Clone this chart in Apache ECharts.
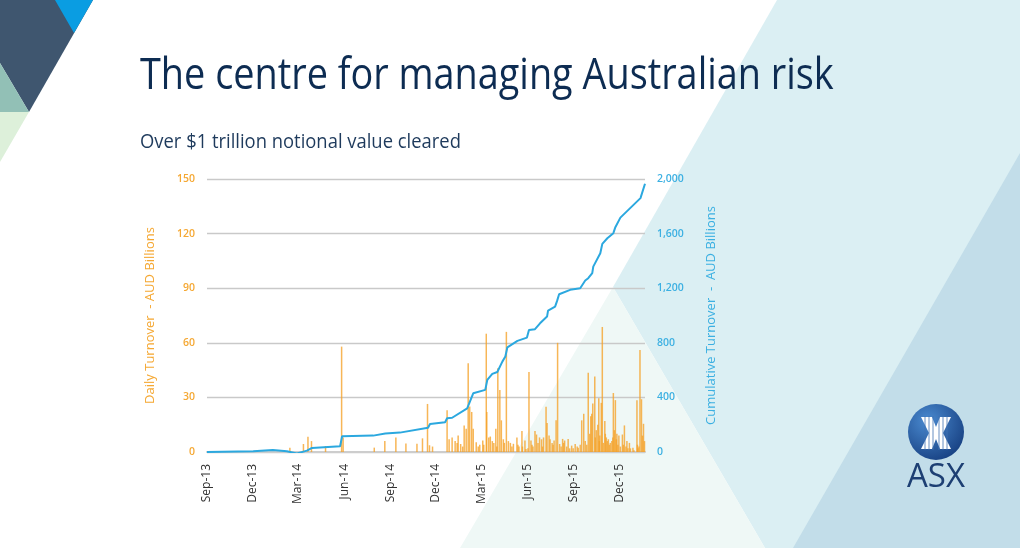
<!DOCTYPE html>
<html><head><meta charset="utf-8">
<script src="https://cdn.jsdelivr.net/npm/echarts@6/dist/echarts.min.js"></script>
<style>html,body{margin:0;padding:0;background:#fff}#c{width:1020px;height:548px}</style>
</head><body><div id="c"></div>
<script>
const titleText = 'The centre for managing Australian risk';
const subtitleText = 'Over $1 trillion notional value cleared';
const leftAxisName = 'Daily Turnover  - AUD Billions';
const rightAxisName = 'Cumulative Turnover  -  AUD Billions';
const logoText = 'ASX';

const tickDates = ['2013-09-01','2013-12-01','2014-03-01','2014-06-01','2014-09-01','2014-12-01','2015-03-01','2015-06-01','2015-09-01','2015-12-01'];
const tickLabels = ['Sep-13','Dec-13','Mar-14','Jun-14','Sep-14','Dec-14','Mar-15','Jun-15','Sep-15','Dec-15'];
const xMin = '2013-09-01';
const xMax = '2016-01-21';

const dailyDates = ['2014-02-13','2014-03-12','2014-03-21','2014-03-28','2014-04-25','2014-05-27','2014-05-30','2014-07-31','2014-08-21','2014-09-12',
'2014-10-02','2014-10-24','2014-11-04','2014-11-14','2014-11-18','2014-11-24','2014-12-23','2014-12-27','2015-01-02','2015-01-08',
'2015-01-12','2015-01-14','2015-01-19','2015-01-23','2015-01-26','2015-01-30','2015-02-03','2015-02-06','2015-02-10','2015-02-13',
'2015-02-19','2015-02-23','2015-02-26','2015-03-04','2015-03-06','2015-03-11','2015-03-12','2015-03-16','2015-03-19','2015-03-23',
'2015-03-26','2015-03-30','2015-04-01','2015-04-03','2015-04-07','2015-04-10','2015-04-14','2015-04-16','2015-04-20','2015-04-24',
'2015-04-28','2015-05-01','2015-05-04','2015-05-11','2015-05-13','2015-05-15','2015-05-21','2015-05-22','2015-05-27','2015-05-29',
'2015-06-02','2015-06-04','2015-06-08','2015-06-10','2015-06-12','2015-06-16','2015-06-19','2015-06-22','2015-06-25','2015-06-29',
'2015-07-01','2015-07-03','2015-07-08','2015-07-10','2015-07-14','2015-07-16','2015-07-20','2015-07-22','2015-07-24','2015-07-28',
'2015-07-31','2015-08-04','2015-08-07','2015-08-10','2015-08-12','2015-08-14','2015-08-18','2015-08-21','2015-08-24','2015-08-28',
'2015-08-31','2015-09-04','2015-09-08','2015-09-10','2015-09-14','2015-09-17','2015-09-21','2015-09-24','2015-09-27','2015-09-30',
'2015-10-03','2015-10-05','2015-10-07','2015-10-09','2015-10-13','2015-10-14','2015-10-16','2015-10-19','2015-10-21','2015-10-22',
'2015-10-23','2015-10-26','2015-10-28','2015-10-30','2015-11-02','2015-11-03','2015-11-05','2015-11-07','2015-11-09','2015-11-11',
'2015-11-13','2015-11-16','2015-11-18','2015-11-19','2015-11-21','2015-11-23','2015-11-25','2015-11-26','2015-11-28','2015-11-30',
'2015-12-03','2015-12-07','2015-12-09','2015-12-11','2015-12-14','2015-12-16','2015-12-18','2015-12-21','2015-12-23','2015-12-28',
'2015-12-30','2016-01-05','2016-01-06','2016-01-07','2016-01-09','2016-01-11','2016-01-14','2016-01-16','2016-01-18','2016-01-20'];
const dailyValues = [2.4,4.4,8.4,6,3.3,57.9,8,2.4,6,8,
4.7,4.5,7.5,26.4,3.7,3,23,7,8,6,
5,9,4.4,3,14.6,12.8,48.7,25,22,12.8,
5.4,3,4,6.3,4,65,22,8,8.5,6,
5,12.8,3,46,34,17.4,7,5,66,6,
5,3,4.5,8,4,3,11.5,3,6.3,1.7,
2,44,6.3,4,3,11.5,9.6,5,8,7,
3,8,24.8,16,9,7,5,4,6.3,17.4,
60,4.4,3,7.2,5,6.3,3,7.2,2,3.5,
2,4.4,3,2.4,4,17.4,21,6,4,43.6,
10,19.6,21,26.7,41.5,8,12,15,29.6,6,
9,27,68.7,5,17,10,8,6,7,4,
5,6,8,32.4,12,28.5,7,10,4,9,
3,9.6,4,14.6,3,6,2,5,2,2.4,
1,28.5,4,2,3,56,29,9,15.5,6];

const cumulativeDates = ['2013-09-01','2013-12-02','2014-01-10','2014-02-07','2014-02-27','2014-03-19','2014-03-29','2014-03-31','2014-05-24','2014-05-28',
'2014-07-29','2014-08-22','2014-09-20','2014-11-15','2014-11-19','2014-12-19','2014-12-23','2015-01-02','2015-02-01','2015-02-13',
'2015-03-09','2015-03-13','2015-03-23','2015-04-02','2015-04-12','2015-04-18','2015-04-22','2015-05-12','2015-05-31','2015-06-04',
'2015-06-16','2015-06-26','2015-07-10','2015-07-12','2015-07-26','2015-07-30','2015-08-03','2015-08-25','2015-09-14','2015-09-24',
'2015-09-30','2015-10-08','2015-10-10','2015-10-24','2015-10-28','2015-11-07','2015-11-19','2015-11-23','2015-12-03','2016-01-12','2016-01-21'];
const cumulativeValues = [0,5,15,5,-10,10,30,38,42,115,
120,135,142,178,205,218,247,251,320,430,
455,528,572,586,662,699,767,814,838,894,
900,943,992,1036,1065,1107,1156,1188,1200,1256,
1273,1310,1358,1456,1525,1566,1603,1647,1717,1860,1965];

function toTime(s){ const p = s.split('-').map(Number); return Date.UTC(p[0], p[1]-1, p[2]); }
const tickTimes = tickDates.map(toTime);

const FONT = 'Open Sans';
const chart = echarts.init(document.getElementById('c'), null, {renderer:'canvas'});

const bg = [
  {type:'polygon', shape:{points:[[777,0],[1020,0],[1020,548],[765,548],[613,287]]}, style:{fill:'#dbeff3'}},
  {type:'polygon', shape:{points:[[613,287],[765,548],[460,548]]}, style:{fill:'#eff8f6'}},
  {type:'polygon', shape:{points:[[793,548],[1020,153],[1020,548]]}, style:{fill:'#c2dde9'}},
  {type:'polygon', shape:{points:[[0,0],[93,0],[29,112],[0,63]]}, style:{fill:'#3f566f'}},
  {type:'polygon', shape:{points:[[55,0],[93,0],[74,33]]}, style:{fill:'#0a9de2'}},
  {type:'polygon', shape:{points:[[0,63],[29,112],[0,112]]}, style:{fill:'#92c0b6'}},
  {type:'polygon', shape:{points:[[0,112],[29,112],[0,162]]}, style:{fill:'#ddf0da'}}
].map(e => Object.assign(e, {z:-100, silent:true}));

const logo = [
  {type:'circle', shape:{cx:936, cy:432, r:28}, style:{fill:new echarts.graphic.RadialGradient(0.35,0.3,0.85,[{offset:0,color:'#4a8ad0'},{offset:1,color:'#12397a'}])}},
  {type:'polygon', shape:{points:[[921,417],[932,417],[936,427],[940,417],[951,417],[943,433],[951,449],[940,449],[936,439],[932,449],[921,449],[929,433]]}, style:{fill:'#ffffff'}},
  {type:'text', x:936, y:478, style:{text:logoText, fontSize:33, fontFamily:FONT, fill:'#1d3f73', align:'center', verticalAlign:'middle'}}
];
[925,929,933,939,943,947].forEach(x => logo.push({type:'line', shape:{x1:x,y1:416,x2:x,y2:450}, style:{stroke:'#3f72b3', lineWidth:0.8}}));
logo.forEach(e => Object.assign(e, {z:50, silent:true}));

const texts = [
  {type:'text', x:140, y:76, scaleX:0.86, style:{text:titleText, fontSize:44, fontFamily:FONT, fill:'#0d2c52', verticalAlign:'middle'}},
  {type:'text', x:140, y:142, scaleX:0.92, style:{text:subtitleText, fontSize:20, fontFamily:FONT, fill:'#1e3a5c', verticalAlign:'middle'}}
].map(e => Object.assign(e, {z:50, silent:true}));

const option = {
  animation:false,
  backgroundColor:'transparent',
  textStyle:{fontFamily:FONT},
  graphic: bg.concat(texts, logo),
  grid:{left:207, right:375, top:179, bottom:96, containLabel:false},
  xAxis:{
    type:'value', min:toTime(xMin), max:toTime(xMax),
    axisLine:{show:true, onZero:false, lineStyle:{color:'#cdcdcd', width:2}},
    axisTick:{show:false},
    splitLine:{show:false},
    axisLabel:{
      customValues: tickTimes,
      rotate:90, margin:12, color:'#333333', fontSize:12, fontFamily:FONT,
      hideOverlap:false, showMinLabel:true, showMaxLabel:true,
      formatter:function(v){
        let best=-1, bd=Infinity;
        tickTimes.forEach((t,i)=>{const d=Math.abs(t-v); if(d<bd){bd=d;best=i;}});
        return bd < 86400000*3 ? tickLabels[best] : '';
      }
    }
  },
  yAxis:[
    {type:'value', min:0, max:150, interval:30, position:'left',
     name:leftAxisName, nameLocation:'middle', nameGap:50,
     nameTextStyle:{color:'#f5a833', fontSize:13, fontFamily:FONT},
     axisLine:{show:false}, axisTick:{show:false},
     axisLabel:{color:'#f5a833', fontSize:10.5, fontWeight:600, margin:12, fontFamily:FONT},
     splitLine:{lineStyle:{color:'#c9c9c9', width:1.3}}},
    {type:'value', min:0, max:2000, interval:400, position:'right',
     name:rightAxisName, nameLocation:'middle', nameGap:60,
     nameTextStyle:{color:'#3cb0e2', fontSize:13, fontFamily:FONT},
     axisLine:{show:false}, axisTick:{show:false},
     axisLabel:{color:'#3cb0e2', fontSize:10.5, fontWeight:600, margin:12, fontFamily:FONT},
     splitLine:{show:false}}
  ],
  series:[
    {type:'bar', yAxisIndex:0, barWidth:1.5, z:2,
     itemStyle:{color:'rgba(245,162,40,0.78)'},
     data: dailyDates.map((d,i)=>[toTime(d), dailyValues[i]])},
    {type:'line', yAxisIndex:1, showSymbol:false, z:3,
     lineStyle:{color:'#2ba8df', width:2},
     data: cumulativeDates.map((d,i)=>[toTime(d), cumulativeValues[i]])}
  ]
};
chart.setOption(option);
</script>
</body></html>
